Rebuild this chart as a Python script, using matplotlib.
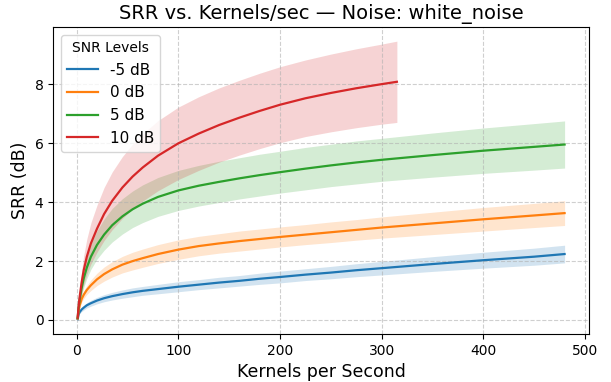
import matplotlib
matplotlib.use('Agg')
import matplotlib.pyplot as plt
import numpy as np

# kernels per second sample points
x_short = [1, 2, 3, 5, 7, 10, 14, 20, 27, 35, 45, 55, 65, 80, 100,
           120, 140, 160, 180, 200, 225, 250, 275, 300, 315]
x_long = [1, 2, 3, 5, 7, 10, 14, 20, 27, 35, 45, 55, 65, 80, 100,
          120, 140, 160, 180, 200, 225, 250, 275, 300, 350, 400, 450, 480]

# mean SRR (dB) per SNR level
srr_m5 = [0.03, 0.2, 0.27, 0.36, 0.42, 0.5, 0.57, 0.66, 0.74, 0.81, 0.88, 0.94, 0.99, 1.05, 1.13,
          1.2, 1.27, 1.33, 1.4, 1.46, 1.54, 1.61, 1.69, 1.76, 1.9, 2.03, 2.15, 2.24]
srr_0 = [0.05, 0.33, 0.5, 0.72, 0.86, 1.02, 1.18, 1.38, 1.56, 1.72, 1.88, 2.0, 2.1, 2.24, 2.39,
         2.51, 2.6, 2.68, 2.75, 2.82, 2.9, 2.98, 3.06, 3.14, 3.28, 3.42, 3.55, 3.63]
srr_5 = [0.07, 0.45, 0.7, 1.1, 1.42, 1.78, 2.15, 2.55, 2.9, 3.22, 3.52, 3.76, 3.95, 4.18, 4.4,
         4.56, 4.69, 4.81, 4.92, 5.02, 5.14, 5.25, 5.35, 5.44, 5.6, 5.75, 5.88, 5.96]
srr_10 = [0.08, 0.5, 0.8, 1.3, 1.7, 2.15, 2.6, 3.1, 3.6, 4.05, 4.5, 4.87, 5.18, 5.58, 6.0,
          6.33, 6.62, 6.87, 7.1, 7.31, 7.53, 7.71, 7.87, 8.01, 8.09]

# standard deviation of SRR
std_m5 = [0.02, 0.04, 0.05, 0.07, 0.08, 0.09, 0.1, 0.11, 0.12, 0.13, 0.14, 0.15, 0.15, 0.16, 0.17,
          0.17, 0.18, 0.18, 0.19, 0.2, 0.2, 0.21, 0.22, 0.23, 0.25, 0.27, 0.29, 0.3]
std_0 = [0.02, 0.06, 0.08, 0.11, 0.13, 0.15, 0.18, 0.21, 0.24, 0.26, 0.28, 0.3, 0.31, 0.32, 0.33,
         0.33, 0.33, 0.34, 0.34, 0.34, 0.34, 0.35, 0.35, 0.36, 0.38, 0.4, 0.41, 0.42]
std_5 = [0.05, 0.12, 0.17, 0.25, 0.31, 0.37, 0.43, 0.48, 0.53, 0.57, 0.6, 0.62, 0.64, 0.66, 0.68,
         0.69, 0.7, 0.7, 0.71, 0.71, 0.72, 0.72, 0.73, 0.73, 0.75, 0.77, 0.79, 0.8]
std_10 = [0.08, 0.2, 0.28, 0.4, 0.5, 0.6, 0.7, 0.8, 0.9, 0.98, 1.05, 1.1, 1.14, 1.19, 1.23,
          1.25, 1.26, 1.27, 1.28, 1.29, 1.3, 1.32, 1.34, 1.36, 1.38]

series = [
    ('-5 dB', x_long, srr_m5, std_m5, 'tab:blue'),
    ('0 dB', x_long, srr_0, std_0, 'tab:orange'),
    ('5 dB', x_long, srr_5, std_5, 'tab:green'),
    ('10 dB', x_short, srr_10, std_10, 'tab:red'),
]

fig = plt.figure(figsize=(6.11, 3.82), dpi=100)
ax = fig.add_axes([0.0872, 0.1257, 0.8768, 0.8028])

for label, xs, m, s, c in series:
    xs = np.array(xs)
    m = np.array(m)
    s = np.array(s)
    ax.plot(xs, m, color=c, lw=1.6, label=label)
    ax.fill_between(xs, m - s, m + s, color=c, alpha=0.2, linewidth=0)

ax.set_xlim(-23, 504)
ax.set_ylim(-0.475, 9.94)
ax.set_yticks([0, 2, 4, 6, 8])
ax.tick_params(labelsize=10)
ax.grid(True, linestyle='--', alpha=0.6)
ax.set_title('SRR vs. Kernels/sec \u2014 Noise: white_noise', fontsize=14)
ax.set_xlabel('Kernels per Second', fontsize=12.5)
ax.set_ylabel('SRR (dB)', fontsize=12.5)
ax.legend(title='SNR Levels', loc='upper left', fontsize=11, title_fontsize=10)

fig.savefig('out.png', dpi=100)
